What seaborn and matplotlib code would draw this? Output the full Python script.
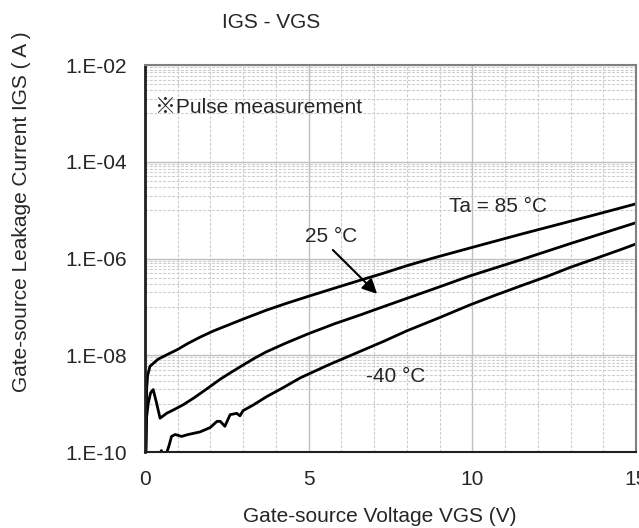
import numpy as np
import pandas as pd
import seaborn as sns
import matplotlib
matplotlib.use("Agg")
import matplotlib.pyplot as plt
from matplotlib.ticker import FixedLocator, NullFormatter

# gate-source voltage / leakage current
vgs_85 = [0.03, 0.05, 0.08, 0.15, 0.4, 0.7, 1.0, 1.3, 1.7, 2.1, 2.5, 3.0, 3.7,
          4.3, 5.0, 5.8, 6.6, 7.3, 8.0, 8.8, 10.0, 11.5, 13.0, 14.0, 15.0]
igs_85 = [1.0e-10, 2.0e-9, 3.8e-9, 5.9e-9, 8.3e-9, 1.05e-8, 1.32e-8, 1.74e-8,
          2.4e-8, 3.2e-8, 4.1e-8, 5.6e-8, 8.5e-8, 1.17e-7, 1.66e-7, 2.45e-7,
          3.6e-7, 5.0e-7, 7.1e-7, 1.02e-6, 1.7e-6, 3.2e-6, 5.9e-6, 8.9e-6,
          1.35e-5]

vgs_25 = [0.02, 0.05, 0.1, 0.17, 0.25, 0.35, 0.46, 0.66, 0.9, 1.17, 1.5, 1.88,
          2.3, 2.6, 3.0, 3.35, 3.7, 4.3, 5.0, 5.8, 6.6, 7.3, 8.0, 9.0, 9.9,
          11.5, 13.0, 15.0]
igs_25 = [1.0e-10, 5.4e-10, 1.02e-9, 1.66e-9, 1.95e-9, 1.05e-9, 5.0e-10,
          6.3e-10, 7.6e-10, 9.5e-10, 1.32e-9, 2.0e-9, 3.2e-9, 4.3e-9, 6.3e-9,
          8.7e-9, 1.17e-8, 1.78e-8, 2.8e-8, 4.5e-8, 6.9e-8, 1.02e-7, 1.5e-7,
          2.6e-7, 4.3e-7, 9.5e-7, 2.04e-6, 5.5e-6]

vgs_m40 = [0.45, 0.5, 0.55, 0.66, 0.74, 0.81, 0.92, 1.12, 1.32, 1.68, 1.99,
           2.2, 2.3, 2.44, 2.6, 2.8, 2.9, 3.0, 3.3, 3.72, 4.2, 4.74, 5.6, 6.57,
           7.3, 8.0, 9.0, 9.93, 10.7, 11.5, 12.3, 13.0, 13.8, 14.5, 15.0]
igs_m40 = [8.9e-11, 1.07e-10, 8.9e-11, 9.5e-11, 1.4e-10, 2.1e-10, 2.3e-10,
           2.1e-10, 2.3e-10, 2.6e-10, 3.2e-10, 4.3e-10, 4.3e-10, 3.4e-10,
           5.9e-10, 6.3e-10, 5.6e-10, 7.2e-10, 9.3e-10, 1.4e-9, 2.1e-9, 3.4e-9,
           6.3e-9, 1.2e-8, 1.95e-8, 3.2e-8, 6.0e-8, 1.1e-7, 1.74e-7, 2.75e-7,
           4.3e-7, 6.6e-7, 1.02e-6, 1.5e-6, 2.0e-6]

x_ticks = [0, 5, 10, 15]
y_ticks = [1e-10, 1e-8, 1e-6, 1e-4, 1e-2]
y_ticklabels = ["1.E-10", "1.E-08", "1.E-06", "1.E-04", "1.E-02"]

sns.set_style("white")
plt.rcParams["font.family"] = ["Liberation Sans", "Noto Sans CJK JP", "DejaVu Sans"]
plt.rcParams["font.size"] = 15

fig = plt.figure(figsize=(6.39, 5.28), dpi=100)
ax = fig.add_axes([145/639, 1-452/528, 491/639, 387/528])

for v, i in [(vgs_85, igs_85), (vgs_25, igs_25), (vgs_m40, igs_m40)]:
    df = pd.DataFrame({"vgs": v, "igs": i})
    sns.lineplot(data=df, x="vgs", y="igs", ax=ax, color="black", lw=2.0,
                 estimator=None, sort=False)

ax.set_yscale("log")
ax.set_xlim(0, 15)
ax.set_ylim(1e-10, 1e-2)

# grid: solid at labelled ticks, dashed in between
ax.xaxis.set_major_locator(FixedLocator(x_ticks))
ax.xaxis.set_minor_locator(FixedLocator([k for k in range(1, 15) if k % 5]))
ax.yaxis.set_major_locator(FixedLocator(y_ticks))
ax.yaxis.set_minor_locator(FixedLocator([k * 10.0**e for e in (-9, -7, -5, -3)
                                         for k in range(1, 10)]))
ax.yaxis.set_minor_formatter(NullFormatter())
ax.set_xticklabels([str(t) for t in x_ticks])
ax.set_yticklabels(y_ticklabels)
ax.grid(which="major", color="#c0c0c0", lw=1.0, ls="-")
ax.grid(which="minor", color="#cccccc", lw=0.8, ls=(0, (2.5, 1.5)))
ax.set_axisbelow(True)
ax.tick_params(which="major", direction="in", length=6, width=1.2,
               color="black", pad=13, labelsize=15)
ax.tick_params(which="minor", length=0)

ax.spines["left"].set_color("#202020")
ax.spines["left"].set_linewidth(2.0)
ax.spines["bottom"].set_color("#202020")
ax.spines["bottom"].set_linewidth(1.5)
for s in ("top", "right"):
    ax.spines[s].set_color("#808080")
    ax.spines[s].set_linewidth(1.5)

ax.set_xlabel("")
ax.set_ylabel("")

ax.text(0.31, 1.3e-3, "※Pulse measurement", va="center", ha="left", fontsize=15)
ax.text(9.29, 1.2e-5, "Ta = 85 °C", va="center", ha="left", fontsize=15)
ax.text(4.89, 2.8e-6, "25 °C", va="center", ha="left", fontsize=15)
ax.text(6.75, 3.7e-9, "-40 °C", va="center", ha="left", fontsize=15)
ax.annotate("", xy=(7.09, 1.86e-7), xytext=(5.74, 1.5e-6),
            arrowprops=dict(arrowstyle="-|>", color="black", lw=1.5,
                            mutation_scale=22, shrinkA=0, shrinkB=0))

fig.text(271/639, 1-23/528, "IGS - VGS", ha="center", va="center", fontsize=15)
fig.text(380/639, 1-516/528, "Gate-source Voltage VGS (V)", ha="center",
         va="center", fontsize=15)
fig.text(22/639, 1-212/528, "Gate-source Leakage Current IGS ( A )",
         ha="center", va="center", rotation=90, fontsize=15)

fig.savefig("out.png", dpi=100)
